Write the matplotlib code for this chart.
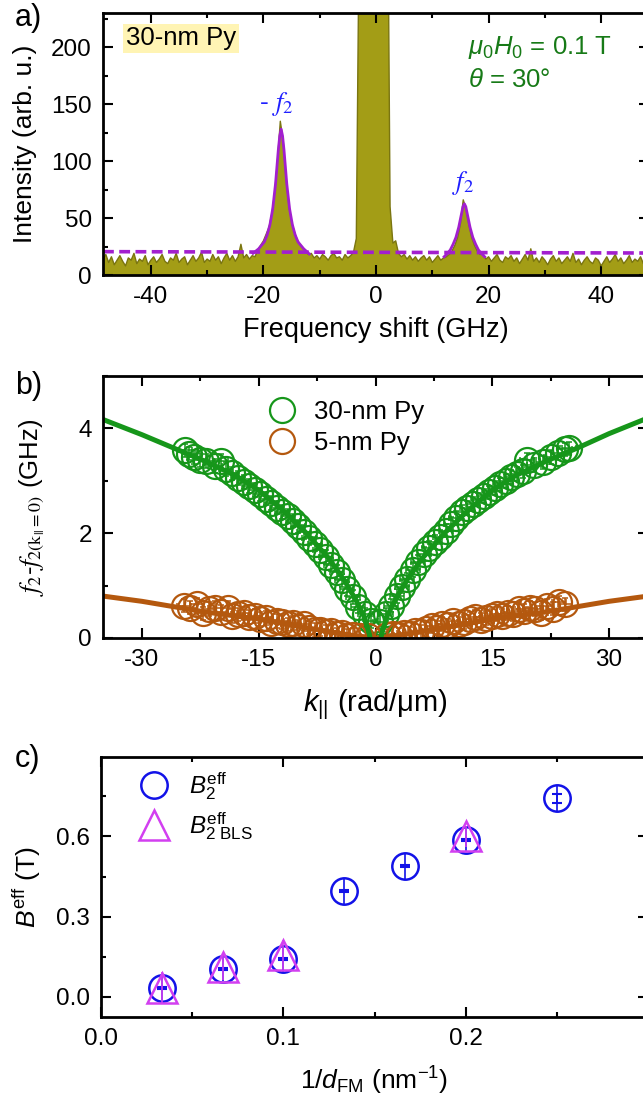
import numpy as np
import matplotlib.pyplot as plt
from matplotlib.ticker import MultipleLocator, FixedLocator, FormatStrFormatter

plt.rcParams['font.family'] = ['Liberation Sans', 'DejaVu Sans']
plt.rcParams['mathtext.fontset'] = 'custom'
plt.rcParams['mathtext.rm'] = 'Liberation Sans'
plt.rcParams['mathtext.it'] = 'Liberation Sans:italic'
plt.rcParams['mathtext.bf'] = 'Liberation Sans:bold'
plt.rcParams['axes.unicode_minus'] = False
plt.rcParams['axes.linewidth'] = 2

# ---- panel a: BLS spectrum (30-nm Py) ----
freq = np.arange(-48.5, 48.75, 0.5)
intensity = [
    14, 18, 11, 16, 9, 13, 17, 12, 8, 15,
    13, 19, 10, 14, 12, 17, 9, 13, 16, 11,
    14, 18, 12, 10, 15, 13, 19, 11, 14, 16,
    9, 13, 17, 12, 15, 20, 11, 14, 12, 18,
    13, 16, 10, 15, 19, 13, 17, 12, 16, 27,
    15, 18, 14, 17, 16, 22, 26, 30, 36, 42,
    54, 72, 100, 135, 118, 85, 62, 47, 38, 31,
    27, 24, 21, 18, 19, 15, 17, 14, 18, 16,
    13, 17, 19, 15, 16, 13, 18, 15, 17, 20,
    32, 300, 3000, 3000, 3000, 3000, 3000, 3000, 3000, 3000,
    3000, 400, 60, 28, 30, 19, 16, 18, 14, 17,
    13, 16, 12, 15, 17, 13, 16, 11, 14, 17,
    13, 15, 16, 18, 21, 26, 33, 45, 66, 58,
    44, 33, 26, 21, 18, 19, 14, 16, 12, 15,
    18, 13, 11, 16, 14, 17, 12, 15, 10, 14,
    18, 13, 23, 12, 15, 11, 16, 13, 9, 14,
    17, 12, 15, 10, 13, 16, 12, 19, 11, 14,
    9, 13, 16, 12, 10, 15, 13, 8, 12, 16,
    11, 14, 18, 12, 15, 10, 13, 17, 11, 14,
    12, 16, 10, 14, 15,
]

# Lorentzian fits
fit_neg_x = [-21.85, -20.85, -19.85, -19.35, -18.85, -18.35, -17.85, -17.35, -17.1,
             -16.85, -16.6, -16.35, -15.85, -15.35, -14.85, -14.35, -13.85, -12.85, -11.85]
fit_neg_y = [19, 23, 29, 35, 44, 58, 80, 110, 122, 128, 122, 110, 80, 58, 44, 35, 29, 23, 18.5]
fit_pos_x = [12.1, 12.7, 13.2, 13.7, 14.2, 14.7, 15.2, 15.45, 15.7, 15.95, 16.2, 16.7,
             17.2, 17.7, 18.2, 18.7, 19.3]
fit_pos_y = [16, 19, 22, 27, 33, 42, 54, 60, 62.5, 60, 54, 42, 33, 27, 22, 19, 16]
base_x = [-48.5, 48.5]
base_y = [20.5, 19.3]

# ---- panel b: dispersion ----
k30 = [-24.5, -24.0, -23.3, -22.6, -21.8, -20.6, -19.8, -19.2, -18.4, -17.6, -16.9,
       -16.2, -15.5, -14.8, -14.1, -13.4, -12.7, -12.0, -11.3, -10.6, -9.9, -9.2,
       -8.5, -7.8, -7.1, -6.4, -5.7, -5.0, -4.3, -3.6, -2.9, -2.2, -1.4, -0.6,
       0.6, 1.3, 2.0, 2.7, 3.4, 4.1, 4.8, 5.5, 6.2, 6.9, 7.6, 8.3, 9.0, 9.7, 10.4,
       11.1, 11.8, 12.5, 13.2, 13.9, 14.6, 15.3, 16.0, 16.7, 17.4, 18.2, 19.0,
       19.5, 20.4, 21.5, 22.6, 23.4, 24.3, 24.9]
f30 = [3.58, 3.52, 3.45, 3.40, 3.38, 3.28, 3.38, 3.22, 3.14, 3.05, 2.98,
       2.90, 2.82, 2.74, 2.66, 2.58, 2.49, 2.41, 2.33, 2.24, 2.13, 2.02,
       1.90, 1.79, 1.67, 1.54, 1.40, 1.26, 1.10, 0.94, 0.78, 0.60, 0.45, 0.33,
       0.30, 0.45, 0.62, 0.80, 0.98, 1.12, 1.30, 1.45, 1.60, 1.72, 1.83, 1.93, 2.05,
       2.17, 2.29, 2.40, 2.48, 2.56, 2.64, 2.71, 2.78, 2.86, 2.93, 3.00, 3.07, 3.13,
       3.18, 3.40, 3.30, 3.35, 3.45, 3.53, 3.60, 3.62]
k5 = [-24.6, -23.8, -22.9, -22.2, -21.4, -20.6, -19.8, -19.0, -18.4, -17.6, -16.9,
      -16.2, -15.5, -14.8, -14.1, -13.4, -12.7, -12.0, -11.3, -10.6, -9.9, -9.2,
      -8.5, -7.8, -7.1, -6.4, -5.7, -5.0, -4.3, -3.6, -2.9, -2.0, -1.0,
      1.5, 2.2, 3.0, 3.7, 4.4, 5.1, 5.8, 6.5, 7.2, 7.9, 8.6, 9.3, 10.0, 10.7, 11.4,
      12.1, 12.8, 13.5, 14.2, 14.9, 15.6, 16.3, 17.0, 17.7, 18.4, 19.1, 19.8, 20.5,
      21.2, 22.0, 22.8, 23.6, 24.4]
f5 = [0.62, 0.58, 0.64, 0.47, 0.55, 0.58, 0.50, 0.57, 0.42, 0.45, 0.47,
      0.40, 0.42, 0.36, 0.38, 0.28, 0.33, 0.31, 0.26, 0.29, 0.21, 0.26,
      0.20, 0.15, 0.16, 0.11, 0.13, 0.07, 0.09, 0.04, 0.06, 0.03, 0.04,
      0.05, 0.08, 0.06, 0.10, 0.08, 0.13, 0.11, 0.18, 0.22, 0.20, 0.27, 0.24, 0.32,
      0.27, 0.30, 0.36, 0.40, 0.34, 0.38, 0.42, 0.46, 0.42, 0.48, 0.46, 0.55, 0.52,
      0.58, 0.55, 0.48, 0.62, 0.56, 0.68, 0.64]
kerr = 0.9
ferr = 0.13

fit30_k = [-35, -30, -26, -22, -18, -15, -12, -9, -6, -4, -2.5, -1.5, -0.8, -0.5, np.nan,
           0.5, 0.8, 1.5, 2.5, 4, 6, 9, 12, 15, 18, 22, 26, 30, 35]
fit30_f = [4.17, 3.88, 3.63, 3.38, 3.10, 2.82, 2.45, 2.02, 1.52, 1.10, 0.72, 0.42, 0.08, -0.15, np.nan,
           -0.15, 0.08, 0.42, 0.72, 1.10, 1.52, 2.02, 2.45, 2.82, 3.10, 3.38, 3.63, 3.90, 4.20]
fit5_k = [-35, -30, -26, -22, -18, -15, -12, -9, -6, -3, 0, 3, 6, 9, 12, 15, 18, 22, 26, 30, 35]
fit5_f = [0.80, 0.70, 0.60, 0.50, 0.42, 0.36, 0.28, 0.20, 0.12, 0.05, 0.0, 0.05, 0.12, 0.20,
          0.28, 0.36, 0.42, 0.50, 0.60, 0.70, 0.80]

# ---- panel c: effective field vs 1/d ----
inv_d = [1/30, 1/15, 1/10, 1/7.5, 1/6, 1/5, 1/4]
b2 = [0.035, 0.106, 0.143, 0.395, 0.488, 0.588, 0.743]
b2_bar = [0.048] * 7
b2_cap = [0.004, 0.004, 0.004, 0.004, 0.004, 0.004, 0.017]
inv_d_bls = [1/30, 1/15, 1/10, 1/5]
b2_bls = [0.035, 0.112, 0.158, 0.600]
b2_bls_err = [0.06, 0.05, 0.055, 0.04]

c_fill = '#a39d16'
c_edge = '#7a7510'
c_fit = '#a21fcf'
c_green = '#16961a'
c_orange = '#b4580e'
c_blue = '#1212e8'
c_tri = '#d23ff0'

W, H = 643, 1101
fig = plt.figure(figsize=(W / 100, H / 100), dpi=100)


def box(l, r, t, b):
    return [l / W, 1 - b / H, (r - l) / W, (b - t) / H]


def style(ax):
    ax.tick_params(which='both', direction='in', top=True, right=True,
                   width=1.5, labelsize=17.5, pad=8)
    ax.tick_params(which='major', length=7)
    ax.tick_params(which='minor', length=3.6)


ax1 = fig.add_axes(box(103, 649, 13, 275))
ax1.fill_between(freq, 0, intensity, color=c_fill, lw=0)
ax1.plot(freq, intensity, color=c_edge, lw=1)
ax1.plot(base_x, base_y, color=c_fit, lw=2.6, ls=(0, (3.0, 1.5)))
ax1.plot(fit_neg_x, fit_neg_y, color=c_fit, lw=2)
ax1.plot(fit_pos_x, fit_pos_y, color=c_fit, lw=2)
ax1.set_xlim(-48.5, 48.5)
ax1.set_ylim(0, 230)
ax1.xaxis.set_major_locator(MultipleLocator(20))
ax1.xaxis.set_minor_locator(MultipleLocator(10))
ax1.yaxis.set_major_locator(MultipleLocator(50))
ax1.yaxis.set_minor_locator(MultipleLocator(25))
style(ax1)
ax1.set_xlabel('Frequency shift (GHz)', fontsize=19.5)
ax1.set_ylabel('Intensity (arb. u.)', fontsize=19)
ax1.xaxis.set_label_coords(0.5, -0.16)
ax1.yaxis.set_label_coords(-0.121, 0.5)
ax1.text(0.042, 0.903, '30-nm Py', transform=ax1.transAxes, fontsize=18.5, va='center',
         bbox=dict(facecolor='#fff4b4', edgecolor='none', pad=2))
ax1.text(0.668, 0.87, r'$\mu_0H_0$ = 0.1 T', transform=ax1.transAxes, fontsize=18.5,
         color='#177a17', va='center')
ax1.text(0.668, 0.744, r'$\theta$ = 30°', transform=ax1.transAxes, fontsize=18.5,
         color='#177a17', va='center')
ax1.text(-17.8, 150, r'- $f_2$', fontsize=19, color='#1f1fff', ha='center', va='center',
         math_fontfamily='stix')
ax1.text(15.4, 81, r'$f_2$', fontsize=19, color='#1f1fff', ha='center', va='center',
         math_fontfamily='stix')

ax2 = fig.add_axes(box(103, 648, 376, 638))
ax2.errorbar(k30, f30, xerr=kerr, yerr=ferr, fmt='none', ecolor=c_green,
             elinewidth=1.1, capsize=2.5, capthick=1.1)
ax2.errorbar(k5, f5, xerr=kerr, yerr=ferr, fmt='none', ecolor=c_orange,
             elinewidth=1.1, capsize=2.5, capthick=1.1)
h30, = ax2.plot(k30, f30, 'o', ms=18, mfc='none', mec=c_green, mew=1.6, label='30-nm Py')
h5, = ax2.plot(k5, f5, 'o', ms=18, mfc='none', mec=c_orange, mew=1.6, label='5-nm Py')
ax2.plot(fit5_k, fit5_f, color=c_orange, lw=3.6)
ax2.plot(fit30_k, fit30_f, color=c_green, lw=3.6)
ax2.set_xlim(-35, 35)
ax2.set_ylim(0, 5)
ax2.xaxis.set_major_locator(MultipleLocator(15))
ax2.xaxis.set_minor_locator(MultipleLocator(7.5))
ax2.yaxis.set_major_locator(MultipleLocator(2))
ax2.yaxis.set_minor_locator(MultipleLocator(1))
style(ax2)
ax2.set_xlabel(r'$k_{||}$ (rad/μm)', fontsize=21)
ax2.set_ylabel(r'$f_2$-$f_{2(\mathrm{k}_{||}=0)}$ (GHz)', fontsize=18.5,
               math_fontfamily='stix')
ax2.xaxis.set_label_coords(0.5, -0.19)
ax2.yaxis.set_label_coords(-0.103, 0.5)
ax2.legend(handles=[h30, h5], loc='upper left', bbox_to_anchor=(0.305, 0.91),
           frameon=False, fontsize=18.5, handlelength=1.0, handletextpad=0.75,
           borderpad=0, borderaxespad=0, labelspacing=0.28)

ax3 = fig.add_axes(box(101, 648, 757, 1017))
ax3.errorbar(inv_d, b2, yerr=b2_bar, fmt='none', ecolor=c_blue, elinewidth=1.2)
ax3.errorbar(inv_d, b2, yerr=b2_cap, fmt='none', ecolor=c_blue, elinewidth=1.2,
             capsize=3.5, capthick=1.5)
hb, = ax3.plot(inv_d, b2, 'o', ms=19, mfc='none', mec=c_blue, mew=1.8,
               label=r'$B_2^{\mathrm{eff}}$')
ax3.errorbar(inv_d_bls, b2_bls, yerr=b2_bls_err, fmt='none', ecolor=c_tri, elinewidth=1.2)
ht, = ax3.plot(inv_d_bls, b2_bls, '^', ms=22, mfc='none', mec=c_tri, mew=1.8,
               label=r'$B_{2\ \mathrm{BLS}}^{\mathrm{eff}}$')
ax3.set_xlim(0, 0.3)
ax3.set_ylim(-0.075, 0.897)
ax3.xaxis.set_major_locator(FixedLocator([0.0, 0.1, 0.2]))
ax3.xaxis.set_minor_locator(FixedLocator([0.05, 0.15, 0.25]))
ax3.yaxis.set_major_locator(MultipleLocator(0.3))
ax3.yaxis.set_minor_locator(MultipleLocator(0.15))
ax3.xaxis.set_major_formatter(FormatStrFormatter('%.1f'))
ax3.yaxis.set_major_formatter(FormatStrFormatter('%.1f'))
style(ax3)
ax3.set_xlabel(r'1/$d_{\mathrm{FM}}$ (nm$^{\mathrm{-1}}$)', fontsize=19)
ax3.set_ylabel(r'$B^{\mathrm{eff}}$ (T)', fontsize=19)
ax3.xaxis.set_label_coords(0.5, -0.185)
ax3.yaxis.set_label_coords(-0.106, 0.5)
ax3.legend(handles=[hb, ht], loc='upper left', bbox_to_anchor=(0.065, 0.95),
           frameon=False, fontsize=17.5, handlelength=1.4, handletextpad=0.75,
           borderpad=0, borderaxespad=0, labelspacing=0.35)

for lab, y in [('a)', 3), ('b)', 371), ('c)', 744)]:
    fig.text(15 / W, 1 - y / H, lab, fontsize=22, va='top', ha='left')

fig.savefig('out.png', dpi=100)
